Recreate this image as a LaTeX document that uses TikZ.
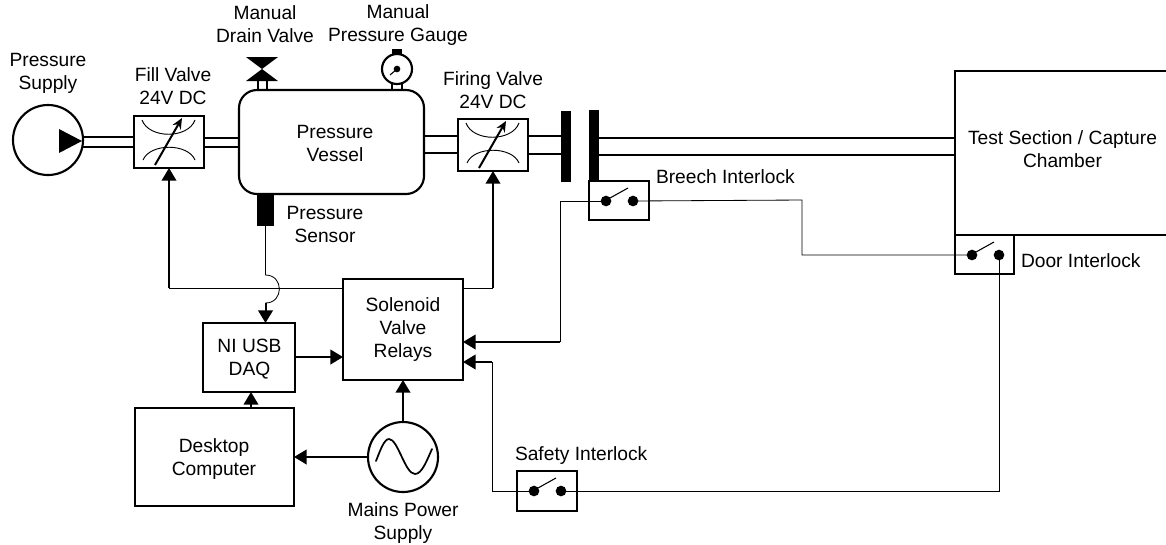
\documentclass[tikz,border=0pt]{standalone}
\usepackage{fontspec}
\setmainfont{Liberation Sans}
\usetikzlibrary{arrows.meta,calc}
\tikzset{
  blk/.style={draw,line width=1.6pt,inner sep=0pt,outer sep=0pt,align=center,fill=white},
  open/.style={inner sep=0pt,outer sep=0pt},
  lbl/.style={inner sep=0pt,outer sep=0pt,align=center},
  lbll/.style={inner sep=0pt,outer sep=0pt,anchor=west},
  pipe/.style={line width=1.5pt},
  wire/.style={line width=0.62pt},
  sig/.style={line width=1.5pt},
  midsig/.style={line width=1.1pt},
  tip/.style={-{Triangle[length=9.5pt,width=11pt]}},
  dotn/.style={circle,fill=black,inner sep=0pt,outer sep=0pt,minimum size=8pt},
  solid block/.style={fill=black,draw=none,inner sep=0pt,outer sep=0pt},
  ring/.style={circle,draw,line width=1.6pt,inner sep=0pt,outer sep=0pt,fill=white},
}
\newcommand{\pxbox}[7][blk]{%
  \node[#1,minimum width={(#5-#3)*0.75pt},minimum height={(#6-#4)*0.75pt}] (#2) at ({(#3+#5)/2},{(#4+#6)/2}) {#7};}
\newcommand{\valvesym}[2]{%
  \begin{scope}[shift={(#1,#2)}]
    \draw[line width=0.7pt] (8,4) .. controls (15,23) and (54,23) .. (61,4);
    \draw[line width=0.7pt] (9,44) .. controls (16,27) and (54,27) .. (61,44);
    \draw[line width=1.5pt,-{Stealth[length=8pt,width=7pt]}] (21,49) -- (48,2);
  \end{scope}}
\newcommand{\switchsym}[3]{%
  \node[dotn] (#1a) at (#2+17,#3+20) {};
  \node[dotn] (#1b) at (#2+44,#3+20) {};
  \draw[line width=0.8pt] (#2+21,#3+17) -- (#2+39,#3+7);}
\begin{document}
\begin{tikzpicture}[x=0.75pt,y=-0.75pt,font=\fontsize{14.4}{17.25}\selectfont]
\useasboundingbox (0,0) rectangle (1166,544);
% pump
\node[ring,minimum size=52.5pt] (pump) at (48,140) {};
\fill (59,129) -- (82,141) -- (59,153) -- cycle;
% fill valve
\pxbox{fill}{134}{116}{204}{168}{}
\valvesym{134}{116}
\draw[pipe] (pump.east |- 0,137) -- (fill.west |- 0,137);
\draw[pipe] (pump.east |- 0,147) -- (fill.west |- 0,147);
% vessel
\pxbox[blk,rounded corners=13.5pt]{vessel}{239}{90}{424}{194}{}
\draw[pipe] (fill.east |- 0,138) -- (vessel.west |- 0,138);
\draw[pipe] (fill.east |- 0,147) -- (vessel.west |- 0,147);
% drain valve
\coordinate (drain) at (262,69);
\fill (246,57) -- (278,57) -- (drain) -- cycle;
\fill (246,81) -- (278,81) -- (drain) -- cycle;
\draw[pipe] (258,81) -- (258,90);
\draw[pipe] (267,81) -- (267,90);
% gauge
\node[ring,minimum size=22.5pt] (gauge) at (397,69) {};
\fill (392,49) rectangle (402,55);
\node[circle,fill=black,inner sep=0pt,minimum size=5pt] (gaugedot) at (397,69) {};
\draw[line width=0.8pt] (gaugedot.center) -- (390,75);
\draw[pipe] (392,84) -- (392,90);
\draw[pipe] (402,84) -- (402,90);
% sensor
\pxbox[solid block]{sensor}{257}{194}{274}{226}{}
% firing valve
\pxbox{firing}{458}{119}{528}{171}{}
\valvesym{458}{119}
\draw[pipe] (vessel.east |- 0,136) -- (firing.west |- 0,136);
\draw[pipe] (vessel.east |- 0,153) -- (firing.west |- 0,153);
% breech plates
\pxbox[solid block]{plateA}{561}{111}{571}{182}{}
\pxbox[solid block]{plateB}{589}{110}{599}{181}{}
\draw[pipe] (firing.east |- 0,136) -- (plateA.west |- 0,136);
\draw[pipe] (firing.east |- 0,154) -- (plateA.west |- 0,154);
% chamber (open on the right)
\pxbox[open]{chamber}{955}{71}{1170}{235}{}
\draw[line width=1.6pt] (chamber.north east) -- (chamber.north west) -- (chamber.south west) -- (chamber.south east);
\draw[pipe] (plateB.east |- 0,138) -- (chamber.west |- 0,138);
\draw[pipe] (plateB.east |- 0,155) -- (chamber.west |- 0,155);
% switches
\pxbox{breech}{589}{181}{649}{220}{}
\switchsym{br}{589}{181}
\pxbox{door}{955}{235}{1014}{274}{}
\switchsym{dr}{955}{235}
\pxbox{safety}{517}{471}{577}{511}{}
\switchsym{sf}{517}{471}
% control blocks
\pxbox{relays}{343}{279}{463}{380}{Solenoid\\Valve\\Relays}
\pxbox{daq}{203}{323}{295}{392}{}
\pxbox{desktop}{135}{408}{294}{506}{}
\node[ring,minimum size=52.5pt] (mains) at (403,457) {};
\draw[line width=1.3pt,line cap=round] (376,461) .. controls (380,451) and (384,439) .. (389,439)
  .. controls (398,439) and (405,474) .. (415,474) .. controls (422,474) and (427,460) .. (432,449);
% signals
\draw[wire] (relays.west |- 0,288) -- (fill.south |- 0,288);
\draw[midsig,tip] (fill.south |- 0,288) -- (fill.south);
\draw[wire] (relays.east |- 0,288) -- (firing.south |- 0,288);
\draw[midsig,tip] (firing.south |- 0,288) -- (firing.south);
\draw[wire] (sensor.south) -- (265.5,275) .. controls (284,275) and (284,303) .. (265.5,303);
\draw[sig,tip] (265.5,303) -- (daq.north -| 265.5,0);
\draw[sig,tip] (daq.east |- 0,357) -- (relays.west |- 0,357);
\draw[sig,tip] (desktop.north -| 251,0) -- (daq.south -| 251,0);
\draw[sig,tip] (mains.north) -- (relays.south);
\draw[sig,tip] (mains.west) -- (desktop.east |- mains.west);
\draw[wire] (bra.center) -- (560,201) -- (560,342);
\draw[sig,tip] (560,342) -- (relays.east |- 0,342);
\draw[wire] (brb.center) -- (802,200) -- (802,255) -- (dra.center);
\draw[wire] (drb.center) -- (999,491) -- (sfb.center);
\draw[wire] (sfa.center) -- (492,491) -- (492,362);
\draw[sig,tip] (492,362) -- (relays.east |- 0,362);
% labels
\node[lbl] (l1) at (48,73) {Pressure\\Supply};
\node[lbl] (l2) at (173,86) {Fill Valve\\24V DC};
\node[lbl] (l3) at (265,24.5) {Manual\\Drain Valve};
\node[lbl] (l4) at (398,25) {Manual\\Pressure Gauge};
\node[lbl] (l5) at (493,90) {Firing Valve\\24V DC};
\node[lbl] (l6) at (335,143) {Pressure\\Vessel};
\node[lbl] (l7) at (325,224) {Pressure\\Sensor};
\node[lbl] (l8) at (403,523) {Mains Power\\Supply};
\node[lbl] (l12) at (1062.5,149) {Test Section / Capture\\Chamber};
\node[lbl] (l13) at (249.5,359) {NI USB\\DAQ};
\node[lbl] (l14) at (214,459.5) {Desktop\\Computer};
\node[lbll] (l9) at (656,177) {Breech Interlock};
\node[lbll] (l10) at (1021,261) {Door Interlock};
\node[lbll] (l11) at (515,455.5) {Safety Interlock};
\end{tikzpicture}
\end{document}
